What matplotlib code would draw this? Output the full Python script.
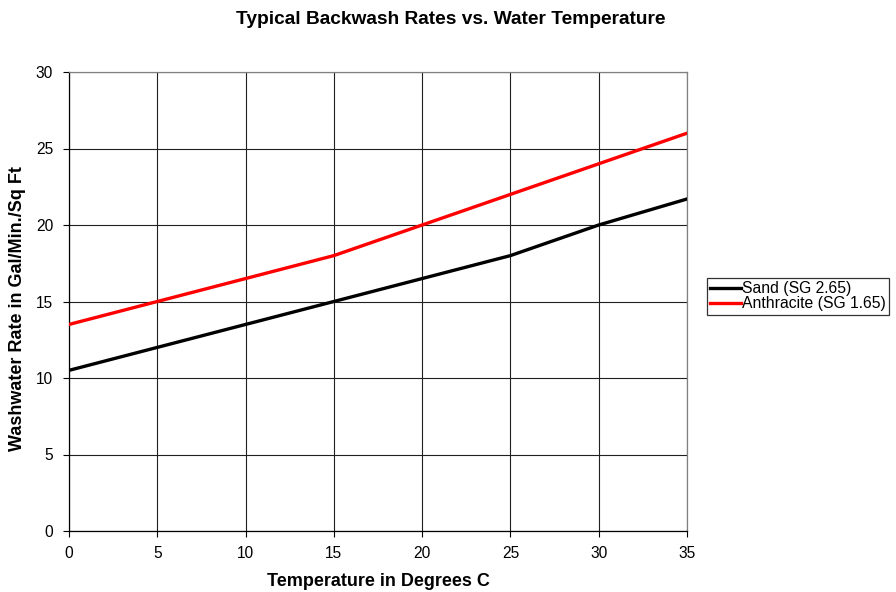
import matplotlib
matplotlib.use("Agg")
import matplotlib.pyplot as plt

plt.rcParams['font.family'] = ['Liberation Sans', 'DejaVu Sans']

temps = [0, 5, 10, 15, 20, 25, 30, 35]
sand = [10.5, 12, 13.5, 15, 16.5, 18, 20, 21.7]
anthracite = [13.5, 15, 16.5, 18, 20, 22, 24, 26]
xticks = [0, 5, 10, 15, 20, 25, 30, 35]
yticks = [0, 5, 10, 15, 20, 25, 30]

W, H = 896, 592
fig = plt.figure(figsize=(W/100, H/100), dpi=100)
ax = fig.add_axes([69/W, 1-531/H, (687-69)/W, (531-72)/H])

ax.plot(temps, sand, color='black', lw=2.4, label='Sand (SG 2.65)', zorder=3)
ax.plot(temps, anthracite, color='#ff0000', lw=2.4, label='Anthracite (SG 1.65)', zorder=3)

ax.set_xlim(0, 35)
ax.set_ylim(0, 30)
ax.set_xticks(xticks)
ax.set_yticks(yticks)
ax.grid(True, color='#202020', lw=0.8)
ax.tick_params(labelsize=11.2, length=4.5, direction='out', width=0.8)
ax.tick_params(axis='x', pad=6)
ax.tick_params(axis='y', pad=7)
for s in ['top', 'right']:
    ax.spines[s].set_color('#808080')
for s in ['left', 'bottom']:
    ax.spines[s].set_color('black')
for s in ax.spines.values():
    s.set_linewidth(0.9)

fig.text(378/W, 1-581/H, 'Temperature in Degrees C', ha='center', va='center',
         fontsize=13, fontweight='bold')
fig.text(18/W, 1-309/H, 'Washwater Rate in Gal/Min./Sq Ft', ha='center', va='center',
         rotation=90, fontsize=13, fontweight='bold')
fig.text(451/W, 1-19/H, 'Typical Backwash Rates vs. Water Temperature',
         ha='center', va='center', fontsize=13.8, fontweight='bold')

leg = fig.legend(loc='upper left', bbox_to_anchor=(707/W, 1-278/H),
                 fontsize=11.3, frameon=True, fancybox=False, handlelength=1.95,
                 handletextpad=0.1, borderpad=0.2, labelspacing=0.02,
                 borderaxespad=0)
leg.get_frame().set_edgecolor('black')
leg.get_frame().set_linewidth(0.9)

fig.savefig('out.png', dpi=100)
